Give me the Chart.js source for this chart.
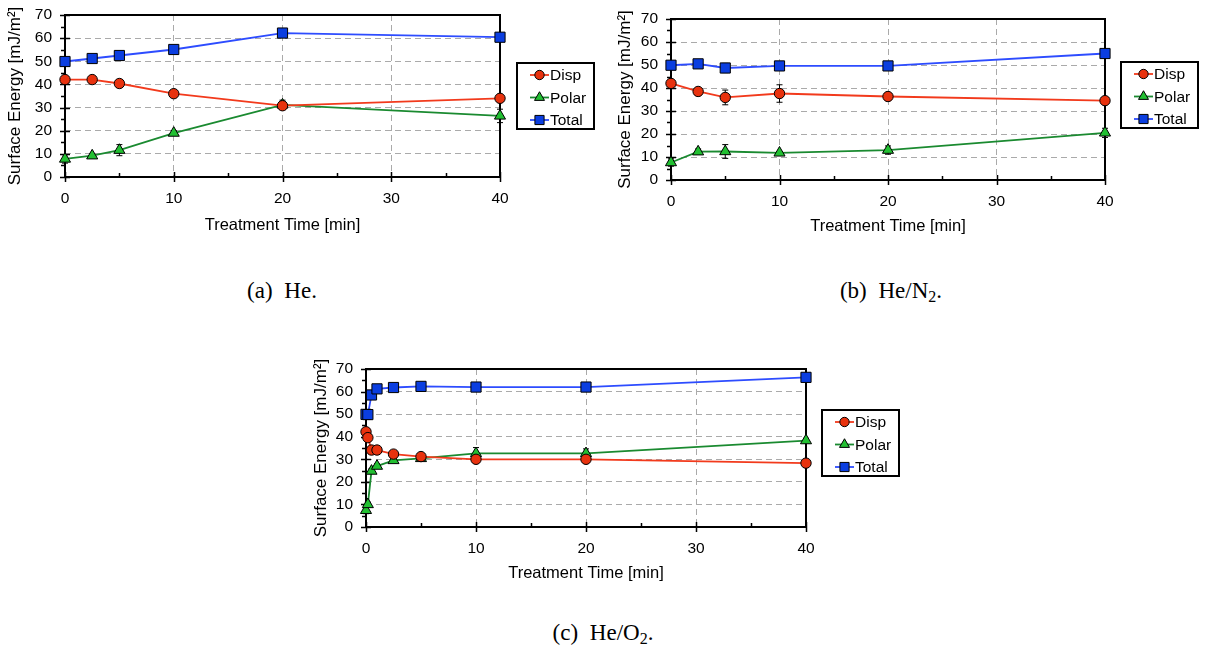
<!DOCTYPE html>
<html lang="en">
<head>
<meta charset="UTF-8" />
<title>Surface Energy vs Treatment Time</title>
<script src="https://cdn.jsdelivr.net/npm/chart.js"></script>
<style>
  body { margin: 0; background: #fff; width: 1205px; height: 652px; position: relative; overflow: hidden; }
  canvas { position: absolute; }
  .caption {
    position: absolute;
    font-family: "Liberation Serif", "DejaVu Serif", serif;
    font-size: 23px;
    color: #000;
    transform: translateX(-50%);
    white-space: nowrap;
    word-spacing: 6px;
    line-height: 1;
  }
  .caption sub { font-size: 16px; vertical-align: -4px; }
</style>
</head>
<body>
<canvas id="chartHe" width="600" height="245" style="left:0px;top:0px"></canvas>
<canvas id="chartHeN2" width="600" height="246" style="left:605px;top:0px"></canvas>
<canvas id="chartHeO2" width="600" height="239" style="left:306px;top:354px"></canvas>

<div class="caption" style="left:282px;top:279px">(a) He.</div>
<div class="caption" style="left:891px;top:279px">(b) He/N<sub>2</sub>.</div>
<div class="caption" style="left:603px;top:621px">(c) He/O<sub>2</sub>.</div>

<script>
// axis ticks
const timeTicks = [0, 10, 20, 30, 40];
const energyTicks = [0, 10, 20, 30, 40, 50, 60, 70];
const seriesNames = ["Disp", "Polar", "Total"];

// (a) He
const timesHe = [0, 2.5, 5, 10, 20, 40];
const dispHe = [42.1, 42.1, 40.4, 36.0, 30.8, 34.0];
const polarHe = [7.8, 9.2, 11.6, 19.0, 31.2, 26.4];
const totalHe = [49.9, 51.2, 52.5, 55.1, 62.2, 60.4];
const dispErrHe = [0.5, 0.5, 0.6, 0.5, 1.0, 0.6];
const polarErrHe = [1.8, 0.8, 2.4, 1.0, 2.0, 2.9];
const totalErrHe = [0, 0, 0, 0, 0, 0];

// (b) He/N2
const timesN2 = [0, 2.5, 5, 10, 20, 40];
const dispN2 = [42.0, 38.5, 35.9, 37.6, 36.3, 34.5];
const polarN2 = [7.6, 12.3, 12.4, 11.8, 13.0, 20.5];
const totalN2 = [49.9, 50.5, 48.7, 49.6, 49.6, 55.0];
const dispErrN2 = [0.8, 1.0, 3.2, 3.8, 0.8, 0.8];
const polarErrN2 = [1.6, 1.2, 3.0, 0.6, 1.8, 2.0];
const totalErrN2 = [0.5, 0.5, 2.0, 1.2, 0.5, 0.5];

// (c) He/O2
const timesO2 = [0, 0.17, 0.5, 1, 2.5, 5, 10, 20, 40];
const dispO2 = [42.2, 39.6, 34.1, 34.1, 32.3, 31.2, 30.0, 30.0, 28.3];
const polarO2 = [7.4, 10.0, 24.8, 27.0, 29.5, 30.4, 32.6, 32.6, 38.3];
const totalO2 = [49.9, 49.8, 58.5, 61.2, 61.8, 62.3, 62.0, 62.0, 66.3];
const dispErrO2 = [0.5, 0.5, 0.5, 0.5, 0.5, 0.5, 0.8, 0.8, 0.5];
const polarErrO2 = [1.5, 1.0, 1.0, 1.0, 1.0, 1.0, 2.6, 2.0, 1.0];
const totalErrO2 = [0, 0, 0, 0, 0, 0, 0, 0, 0];

const seriesStyle = [
    { line: "#f23a1c", fill: "#e8320e", shape: "circle", radius: 5.2 },
    { line: "#1a8a30", fill: "#22c032", shape: "triangle", radius: 6.4 },
    { line: "#2d4cff", fill: "#0b3ee0", shape: "rect", radius: 7.2 }
];

const sansFont = "'Liberation Sans', Arial, sans-serif";

// frame, tick marks and error bars, drawn under the markers
const framePlugin = {
    id: "frameTicks",
    beforeDatasetsDraw(chart) {
        const { ctx, chartArea: a, scales: { x, y } } = chart;
        ctx.save();

        ctx.strokeStyle = "#000";
        ctx.lineWidth = 1;
        chart.data.datasets.forEach(ds => {
            ds.errors.forEach((e, j) => {
                if (!e) return;
                const px = x.getPixelForValue(ds.data[j].x);
                const top = y.getPixelForValue(ds.data[j].y + e);
                const bot = y.getPixelForValue(ds.data[j].y - e);
                ctx.beginPath();
                ctx.moveTo(px, top); ctx.lineTo(px, bot);
                ctx.moveTo(px - 3, top); ctx.lineTo(px + 3, top);
                ctx.moveTo(px - 3, bot); ctx.lineTo(px + 3, bot);
                ctx.stroke();
            });
        });

        ctx.lineWidth = 1.5;
        ctx.beginPath();
        for (let v = y.min; v <= y.max; v += 5) {
            const py = Math.round(y.getPixelForValue(v)) + 0.5;
            if (v % 10 === 0) { ctx.moveTo(a.left - 5, py); ctx.lineTo(a.left + 5, py); }
            else { ctx.moveTo(a.left - 4, py); ctx.lineTo(a.left, py); }
        }
        for (let v = x.min; v <= x.max; v += 5) {
            const px = Math.round(x.getPixelForValue(v)) + 0.5;
            if (v % 10 === 0) { ctx.moveTo(px, a.bottom - 5); ctx.lineTo(px, a.bottom + 5); }
            else { ctx.moveTo(px, a.bottom - 4); ctx.lineTo(px, a.bottom); }
        }
        ctx.stroke();

        ctx.lineWidth = 2;
        ctx.strokeRect(a.left, a.top, a.right - a.left, a.bottom - a.top);
        ctx.restore();
    },
    afterDraw(chart, args, opts) {
        const { ctx, chartArea: a } = chart;
        const bx = a.right + opts.dx, by = a.top + opts.dy;
        ctx.save();
        ctx.fillStyle = "#fff";
        ctx.fillRect(bx, by, 77, 66);
        ctx.strokeStyle = "#000";
        ctx.lineWidth = 2;
        ctx.strokeRect(bx, by, 77, 66);
        ctx.font = "15.5px " + sansFont;
        ctx.textBaseline = "middle";
        chart.data.datasets.forEach((ds, i) => {
            const cy = by + 12 + i * 22.5;
            ctx.strokeStyle = ds.borderColor;
            ctx.lineWidth = 1.8;
            ctx.beginPath();
            ctx.moveTo(bx + 13, cy); ctx.lineTo(bx + 32, cy);
            ctx.stroke();
            ctx.fillStyle = ds.pointBackgroundColor;
            ctx.strokeStyle = "#000";
            ctx.lineWidth = 1;
            Chart.helpers.drawPoint(ctx, {
                pointStyle: ds.pointStyle, radius: ds.pointRadius * 0.9, rotation: 0, borderWidth: 1
            }, bx + 22.5, cy);
            ctx.fillStyle = "#000";
            ctx.fillText(ds.label, bx + 33, cy + 1);
        });
        ctx.restore();
    }
};

function makeChart(canvasId, times, disp, polar, total, errs, box) {
    const values = [disp, polar, total];
    const datasets = values.map((vals, i) => ({
        label: seriesNames[i],
        data: vals.map((v, j) => ({ x: times[j], y: v })),
        errors: errs[i],
        borderColor: seriesStyle[i].line,
        borderWidth: 1.8,
        pointStyle: seriesStyle[i].shape,
        pointRadius: seriesStyle[i].radius,
        pointBackgroundColor: seriesStyle[i].fill,
        pointBorderColor: "#000",
        pointBorderWidth: 1,
        tension: 0,
        clip: false
    }));

    const gridColor = c => (c.tick && (c.tick.value === c.scale.min || c.tick.value === c.scale.max))
        ? "rgba(0,0,0,0)" : "#aaaaaa";

    return new Chart(document.getElementById(canvasId).getContext("2d"), {
        type: "line",
        data: { datasets: datasets },
        options: {
            responsive: false,
            animation: false,
            events: [],
            layout: { padding: { left: 0, top: box.top, right: 100, bottom: 0 } },
            scales: {
                x: {
                    type: "linear",
                    min: timeTicks[0],
                    max: timeTicks[timeTicks.length - 1],
                    afterBuildTicks: s => { s.ticks = timeTicks.map(v => ({ value: v })); },
                    ticks: { color: "#000", padding: 12, autoSkip: false, maxRotation: 0,
                        font: { family: sansFont, size: 15.5 } },
                    grid: { color: gridColor, drawTicks: false, lineWidth: 1 },
                    border: { display: false, dash: [6, 4] },
                    title: {
                        display: true, text: "Treatment Time [min]", color: "#000",
                        font: { family: sansFont, size: 16.5 }, padding: { top: 0, bottom: 10 }
                    },
                    afterFit: s => {
                        s.height = s.chart.height - box.top - box.plotH;
                        s.paddingLeft = 0; s.paddingRight = 0;
                    }
                },
                y: {
                    type: "linear",
                    min: energyTicks[0],
                    max: energyTicks[energyTicks.length - 1],
                    afterBuildTicks: s => { s.ticks = energyTicks.map(v => ({ value: v })); },
                    ticks: { color: "#000", padding: 13, autoSkip: false,
                        font: { family: sansFont, size: 15.5 } },
                    grid: { color: gridColor, drawTicks: false, lineWidth: 1 },
                    border: { display: false, dash: [6, 4] },
                    title: {
                        display: true, text: "Surface Energy [mJ/m\u00b2]", color: "#000",
                        font: { family: sansFont, size: 17 }, padding: { top: box.titlePad, bottom: 0 }
                    },
                    afterFit: s => {
                        s.width = box.yWidth;
                        s.paddingTop = 0; s.paddingBottom = 0;
                    }
                }
            },
            plugins: {
                legend: { display: false },
                tooltip: { enabled: false },
                frameTicks: { dx: box.dx, dy: box.dy }
            }
        },
        plugins: [framePlugin]
    });
}

window.onload = function () {
    makeChart("chartHe", timesHe, dispHe, polarHe, totalHe,
        [dispErrHe, polarErrHe, totalErrHe],
        { top: 15, plotH: 162, yWidth: 65, titlePad: 5, dx: 17, dy: 48 });
    makeChart("chartHeN2", timesN2, dispN2, polarN2, totalN2,
        [dispErrN2, polarErrN2, totalErrN2],
        { top: 19, plotH: 161, yWidth: 66, titlePad: 10, dx: 16, dy: 43 });
    makeChart("chartHeO2", timesO2, dispO2, polarO2, totalO2,
        [dispErrO2, polarErrO2, totalErrO2],
        { top: 15, plotH: 158, yWidth: 60, titlePad: 5, dx: 16, dy: 41 });
};
</script>
</body>
</html>
